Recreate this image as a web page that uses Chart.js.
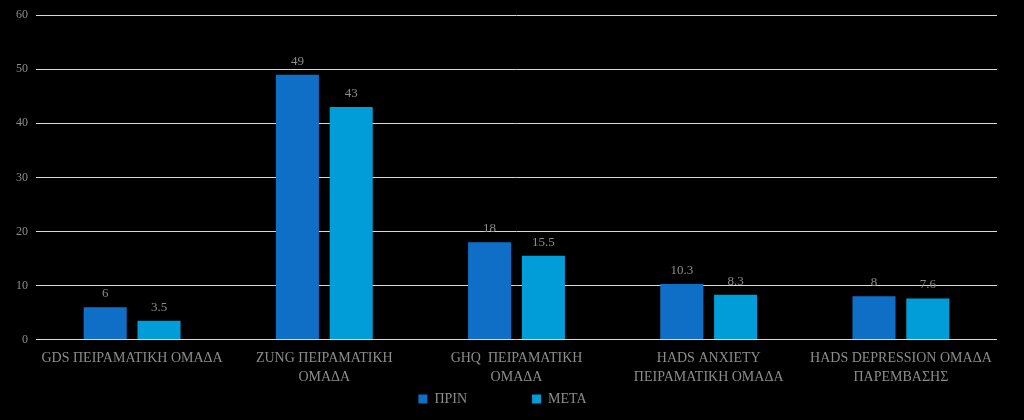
<!DOCTYPE html>
<html>
<head>
<meta charset="utf-8">
<script src="https://cdn.jsdelivr.net/npm/chart.js@4/dist/chart.umd.min.js"></script>
<style>
html,body{margin:0;padding:0;background:#000;}
#wrap{width:1024px;height:420px;position:relative;}
</style>
</head>
<body>
<div id="wrap"><canvas id="c" width="1024" height="420"></canvas></div>
<script>
const categories = [
  ["GDS ΠΕΙΡΑΜΑΤΙΚΗ ΟΜΑΔΑ"],
  ["ZUNG ΠΕΙΡΑΜΑΤΙΚΗ", "ΟΜΑΔΑ"],
  ["GHQ  ΠΕΙΡΑΜΑΤΙΚΗ", "ΟΜΑΔΑ"],
  ["HADS ANXIETY", "ΠΕΙΡΑΜΑΤΙΚΗ ΟΜΑΔΑ"],
  ["HADS DEPRESSION ΟΜΑΔΑ", "ΠΑΡΕΜΒΑΣΗΣ"]
];
const seriesNames = ["ΠΡΙΝ", "ΜΕΤΑ"];
const prinValues = [6, 49, 18, 10.3, 8];
const metaValues = [3.5, 43, 15.5, 8.3, 7.6];
const yTicks = [0, 10, 20, 30, 40, 50, 60];

const FONT = "'Liberation Serif', 'DejaVu Serif', serif";
const TEXT = '#8c8c8c';

const labelPlugin = {
  id: 'barLabels',
  afterDatasetsDraw(chart) {
    const ctx = chart.ctx;
    ctx.save();
    ctx.font = "13px " + FONT;
    ctx.fillStyle = TEXT;
    ctx.textAlign = 'center';
    ctx.textBaseline = 'bottom';
    chart.data.datasets.forEach((ds, i) => {
      const meta = chart.getDatasetMeta(i);
      meta.data.forEach((bar, j) => {
        ctx.fillText(String(ds.data[j]), bar.x, bar.y - 7);
      });
    });
    ctx.restore();
  }
};

new Chart(document.getElementById('c'), {
  type: 'bar',
  data: {
    labels: categories,
    datasets: [
      { label: seriesNames[0], data: prinValues, backgroundColor: '#0F6FC6', categoryPercentage: 0.56, barPercentage: 0.8 },
      { label: seriesNames[1], data: metaValues, backgroundColor: '#009DD9', categoryPercentage: 0.56, barPercentage: 0.8 }
    ]
  },
  options: {
    responsive: false,
    animation: false,
    devicePixelRatio: 1,
    layout: { padding: { top: 9, right: 27, left: 8, bottom: 4 } },
    plugins: {
      legend: {
        position: 'bottom',
        labels: {
          color: TEXT,
          font: { family: FONT, size: 14 },
          boxWidth: 9, boxHeight: 9,
          padding: 2,
          generateLabels(chart) {
            const items = Chart.defaults.plugins.legend.labels.generateLabels(chart);
            items.forEach((it, i) => { if (i === 0) it.text = it.text + '\u2003\u2003\u2003\u2003\u2002'; });
            return items;
          }
        }
      },
      tooltip: { enabled: false }
    },
    scales: {
      x: {
        grid: { display: false },
        border: { display: false },
        afterFit(axis) { axis.height += 2; },
        ticks: { color: TEXT, font: { family: FONT, size: 14, lineHeight: 1.3 }, maxRotation: 0, autoSkip: false, padding: 2 }
      },
      y: {
        min: 0, max: 60,
        afterBuildTicks(axis) { axis.ticks = yTicks.map(v => ({ value: v })); },
        grid: { color: '#d9d9d9', lineWidth: 1, drawTicks: false },
        border: { display: false },
        ticks: { color: TEXT, font: { family: FONT, size: 12 }, padding: 8 }
      }
    }
  },
  plugins: [labelPlugin]
});
</script>
</body>
</html>
